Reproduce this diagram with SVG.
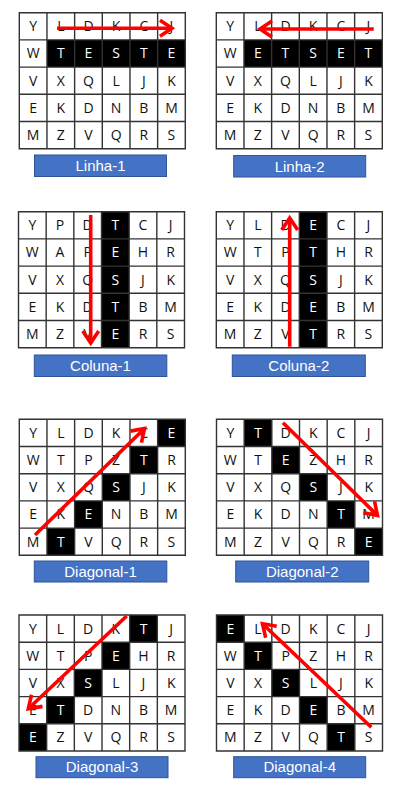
<svg xmlns="http://www.w3.org/2000/svg" width="407" height="790" viewBox="0 0 407 790">
<defs>
<style>
.bg{fill:#fff}
.blk{fill:#000}
.grid{fill:none;stroke:#333;stroke-width:1.4}
.t{font-family:"Open Sans","Liberation Sans",sans-serif;font-size:14px;fill:#111;text-anchor:middle}
.w{fill:#fff}
.lbl{fill:#4472C4;stroke:#2F5597;stroke-width:1}
.lt{font-family:"Liberation Sans",Arial,sans-serif;font-size:15px;fill:#fff;text-anchor:middle}
.arr{fill:none;stroke:#f00;stroke-width:3.6;marker-end:url(#ah)}
</style>
<marker id="ah" viewBox="-16 -10 18 20" refX="0" refY="0" markerWidth="18" markerHeight="20" orient="auto" markerUnits="userSpaceOnUse" overflow="visible">
<path d="M-12,-8 L0,0 L-12,8" fill="none" stroke="#f00" stroke-width="3.6"/>
</marker>
<path id="gl" d="M0,0H166V136H0Z M27.67,0V136 M55.33,0V136 M83,0V136 M110.67,0V136 M138.33,0V136 M0,27.2H166 M0,54.4H166 M0,81.6H166 M0,108.8H166"/>
</defs>
<rect width="407" height="790" fill="#fff"/>

<g id="linha-1">
<g transform="translate(19.3,12.7)">
<rect class="bg" width="166" height="136"/>
<rect class="blk" x="27.67" y="27.2" width="138.33" height="27.2"/>
<use href="#gl" class="grid"/>
<text class="t" x="13.83 41.5 69.17 96.83 124.5 152.17" y="18.6">YLDKCJ</text>
<text class="t" y="45.8"><tspan x="13.83">W</tspan><tspan class="w" x="41.5 69.17 96.83 124.5 152.17">TESTE</tspan></text>
<text class="t" x="13.83 41.5 69.17 96.83 124.5 152.17" y="73">VXQLJK</text>
<text class="t" x="13.83 41.5 69.17 96.83 124.5 152.17" y="100.2">EKDNBM</text>
<text class="t" x="13.83 41.5 69.17 96.83 124.5 152.17" y="127.4">MZVQRS</text>
</g>
<rect class="lbl" x="34.5" y="155" width="132" height="21.5"/>
<text class="lt" x="100.5" y="171">Linha-1</text>
</g>

<g id="linha-2">
<g transform="translate(216.3,12.7)">
<rect class="bg" width="166" height="136"/>
<rect class="blk" x="27.67" y="27.2" width="138.33" height="27.2"/>
<use href="#gl" class="grid"/>
<text class="t" x="13.83 41.5 69.17 96.83 124.5 152.17" y="18.6">YLDKCJ</text>
<text class="t" y="45.8"><tspan x="13.83">W</tspan><tspan class="w" x="41.5 69.17 96.83 124.5 152.17">ETSET</tspan></text>
<text class="t" x="13.83 41.5 69.17 96.83 124.5 152.17" y="73">VXQLJK</text>
<text class="t" x="13.83 41.5 69.17 96.83 124.5 152.17" y="100.2">EKDNBM</text>
<text class="t" x="13.83 41.5 69.17 96.83 124.5 152.17" y="127.4">MZVQRS</text>
</g>
<rect class="lbl" x="233.7" y="155.5" width="132" height="21.5"/>
<text class="lt" x="299.7" y="171.5">Linha-2</text>
</g>

<g id="coluna-1">
<g transform="translate(18.5,211.7)">
<rect class="bg" width="166" height="136"/>
<rect class="blk" x="83" y="0" width="27.67" height="136"/>
<use href="#gl" class="grid"/>
<text class="t" y="18.6"><tspan x="13.83 41.5 69.17">YPD</tspan><tspan class="w" x="96.83">T</tspan><tspan x="124.5 152.17">CJ</tspan></text>
<text class="t" y="45.8"><tspan x="13.83 41.5 69.17">WAP</tspan><tspan class="w" x="96.83">E</tspan><tspan x="124.5 152.17">HR</tspan></text>
<text class="t" y="73"><tspan x="13.83 41.5 69.17">VXQ</tspan><tspan class="w" x="96.83">S</tspan><tspan x="124.5 152.17">JK</tspan></text>
<text class="t" y="100.2"><tspan x="13.83 41.5 69.17">EKD</tspan><tspan class="w" x="96.83">T</tspan><tspan x="124.5 152.17">BM</tspan></text>
<text class="t" y="127.4"><tspan x="13.83 41.5 69.17">MZV</tspan><tspan class="w" x="96.83">E</tspan><tspan x="124.5 152.17">RS</tspan></text>
</g>
<rect class="lbl" x="34.3" y="355" width="132.5" height="21.5"/>
<text class="lt" x="100.5" y="371">Coluna-1</text>
</g>

<g id="coluna-2">
<g transform="translate(216.3,211.7)">
<rect class="bg" width="166" height="136"/>
<rect class="blk" x="83" y="0" width="27.67" height="136"/>
<use href="#gl" class="grid"/>
<text class="t" y="18.6"><tspan x="13.83 41.5 69.17">YLD</tspan><tspan class="w" x="96.83">E</tspan><tspan x="124.5 152.17">CJ</tspan></text>
<text class="t" y="45.8"><tspan x="13.83 41.5 69.17">WTP</tspan><tspan class="w" x="96.83">T</tspan><tspan x="124.5 152.17">HR</tspan></text>
<text class="t" y="73"><tspan x="13.83 41.5 69.17">VXQ</tspan><tspan class="w" x="96.83">S</tspan><tspan x="124.5 152.17">JK</tspan></text>
<text class="t" y="100.2"><tspan x="13.83 41.5 69.17">EKD</tspan><tspan class="w" x="96.83">E</tspan><tspan x="124.5 152.17">BM</tspan></text>
<text class="t" y="127.4"><tspan x="13.83 41.5 69.17">MZV</tspan><tspan class="w" x="96.83">T</tspan><tspan x="124.5 152.17">RS</tspan></text>
</g>
<rect class="lbl" x="232.3" y="355" width="133" height="21.5"/>
<text class="lt" x="298.8" y="371">Coluna-2</text>
</g>

<g id="diagonal-1">
<g transform="translate(19.3,419.3)">
<rect class="bg" width="166" height="136"/>
<rect class="blk" x="138.33" y="0" width="27.67" height="27.2"/>
<rect class="blk" x="110.67" y="27.2" width="27.67" height="27.2"/>
<rect class="blk" x="83" y="54.4" width="27.67" height="27.2"/>
<rect class="blk" x="55.33" y="81.6" width="27.67" height="27.2"/>
<rect class="blk" x="27.67" y="108.8" width="27.67" height="27.2"/>
<use href="#gl" class="grid"/>
<text class="t" y="18.6"><tspan x="13.83 41.5 69.17 96.83 124.5">YLDKC</tspan><tspan class="w" x="152.17">E</tspan></text>
<text class="t" y="45.8"><tspan x="13.83 41.5 69.17 96.83">WTPZ</tspan><tspan class="w" x="124.5">T</tspan><tspan x="152.17">R</tspan></text>
<text class="t" y="73"><tspan x="13.83 41.5 69.17">VXQ</tspan><tspan class="w" x="96.83">S</tspan><tspan x="124.5 152.17">JK</tspan></text>
<text class="t" y="100.2"><tspan x="13.83 41.5">EK</tspan><tspan class="w" x="69.17">E</tspan><tspan x="96.83 124.5 152.17">NBM</tspan></text>
<text class="t" y="127.4"><tspan x="13.83">M</tspan><tspan class="w" x="41.5">T</tspan><tspan x="69.17 96.83 124.5 152.17">VQRS</tspan></text>
</g>
<rect class="lbl" x="34.3" y="561" width="132.5" height="21"/>
<text class="lt" x="100.5" y="576.7">Diagonal-1</text>
</g>

<g id="diagonal-2">
<g transform="translate(216.5,419.3)">
<rect class="bg" width="166" height="136"/>
<rect class="blk" x="27.67" y="0" width="27.67" height="27.2"/>
<rect class="blk" x="55.33" y="27.2" width="27.67" height="27.2"/>
<rect class="blk" x="83" y="54.4" width="27.67" height="27.2"/>
<rect class="blk" x="110.67" y="81.6" width="27.67" height="27.2"/>
<rect class="blk" x="138.33" y="108.8" width="27.67" height="27.2"/>
<use href="#gl" class="grid"/>
<text class="t" y="18.6"><tspan x="13.83">Y</tspan><tspan class="w" x="41.5">T</tspan><tspan x="69.17 96.83 124.5 152.17">DKCJ</tspan></text>
<text class="t" y="45.8"><tspan x="13.83 41.5">WT</tspan><tspan class="w" x="69.17">E</tspan><tspan x="96.83 124.5 152.17">ZHR</tspan></text>
<text class="t" y="73"><tspan x="13.83 41.5 69.17">VXQ</tspan><tspan class="w" x="96.83">S</tspan><tspan x="124.5 152.17">JK</tspan></text>
<text class="t" y="100.2"><tspan x="13.83 41.5 69.17 96.83">EKDN</tspan><tspan class="w" x="124.5">T</tspan><tspan x="152.17">M</tspan></text>
<text class="t" y="127.4"><tspan x="13.83 41.5 69.17 96.83 124.5">MZVQR</tspan><tspan class="w" x="152.17">E</tspan></text>
</g>
<rect class="lbl" x="235.7" y="561" width="133" height="21"/>
<text class="lt" x="302.2" y="576.7">Diagonal-2</text>
</g>

<g id="diagonal-3">
<g transform="translate(19,615)">
<rect class="bg" width="166" height="136"/>
<rect class="blk" x="110.67" y="0" width="27.67" height="27.2"/>
<rect class="blk" x="83" y="27.2" width="27.67" height="27.2"/>
<rect class="blk" x="55.33" y="54.4" width="27.67" height="27.2"/>
<rect class="blk" x="27.67" y="81.6" width="27.67" height="27.2"/>
<rect class="blk" x="0" y="108.8" width="27.67" height="27.2"/>
<use href="#gl" class="grid"/>
<text class="t" y="18.6"><tspan x="13.83 41.5 69.17 96.83">YLDK</tspan><tspan class="w" x="124.5">T</tspan><tspan x="152.17">J</tspan></text>
<text class="t" y="45.8"><tspan x="13.83 41.5 69.17">WTP</tspan><tspan class="w" x="96.83">E</tspan><tspan x="124.5 152.17">HR</tspan></text>
<text class="t" y="73"><tspan x="13.83 41.5">VX</tspan><tspan class="w" x="69.17">S</tspan><tspan x="96.83 124.5 152.17">LJK</tspan></text>
<text class="t" y="100.2"><tspan x="13.83">E</tspan><tspan class="w" x="41.5">T</tspan><tspan x="69.17 96.83 124.5 152.17">DNBM</tspan></text>
<text class="t" y="127.4"><tspan class="w" x="13.83">E</tspan><tspan x="41.5 69.17 96.83 124.5 152.17">ZVQRS</tspan></text>
</g>
<rect class="lbl" x="36" y="756.7" width="132" height="21"/>
<text class="lt" x="102" y="772.4">Diagonal-3</text>
</g>

<g id="diagonal-4">
<g transform="translate(216.5,615)">
<rect class="bg" width="166" height="136"/>
<rect class="blk" x="0" y="0" width="27.67" height="27.2"/>
<rect class="blk" x="27.67" y="27.2" width="27.67" height="27.2"/>
<rect class="blk" x="55.33" y="54.4" width="27.67" height="27.2"/>
<rect class="blk" x="83" y="81.6" width="27.67" height="27.2"/>
<rect class="blk" x="110.67" y="108.8" width="27.67" height="27.2"/>
<use href="#gl" class="grid"/>
<text class="t" y="18.6"><tspan class="w" x="13.83">E</tspan><tspan x="41.5 69.17 96.83 124.5 152.17">LDKCJ</tspan></text>
<text class="t" y="45.8"><tspan x="13.83">W</tspan><tspan class="w" x="41.5">T</tspan><tspan x="69.17 96.83 124.5 152.17">PZHR</tspan></text>
<text class="t" y="73"><tspan x="13.83 41.5">VX</tspan><tspan class="w" x="69.17">S</tspan><tspan x="96.83 124.5 152.17">LJK</tspan></text>
<text class="t" y="100.2"><tspan x="13.83 41.5 69.17">EKD</tspan><tspan class="w" x="96.83">E</tspan><tspan x="124.5 152.17">BM</tspan></text>
<text class="t" y="127.4"><tspan x="13.83 41.5 69.17 96.83">MZVQ</tspan><tspan class="w" x="124.5">T</tspan><tspan x="152.17">S</tspan></text>
</g>
<rect class="lbl" x="233.7" y="756.7" width="132" height="21"/>
<text class="lt" x="299.7" y="772.4">Diagonal-4</text>
</g>

<g id="connectors">
<path class="arr" d="M57,28.3 L172,28.3"/>
<path class="arr" d="M373.7,29 L260,29"/>
<path class="arr" d="M90.7,215 L90.7,343"/>
<path class="arr" d="M289.7,346.7 L289.7,218"/>
<path class="arr" d="M35,535 L144.5,428.5"/>
<path class="arr" d="M283,422.7 L377.5,515.5"/>
<path class="arr" d="M126.7,616 L28.3,708.8"/>
<path class="arr" d="M371.3,727.3 L262.5,623.7"/>
</g>
</svg>
